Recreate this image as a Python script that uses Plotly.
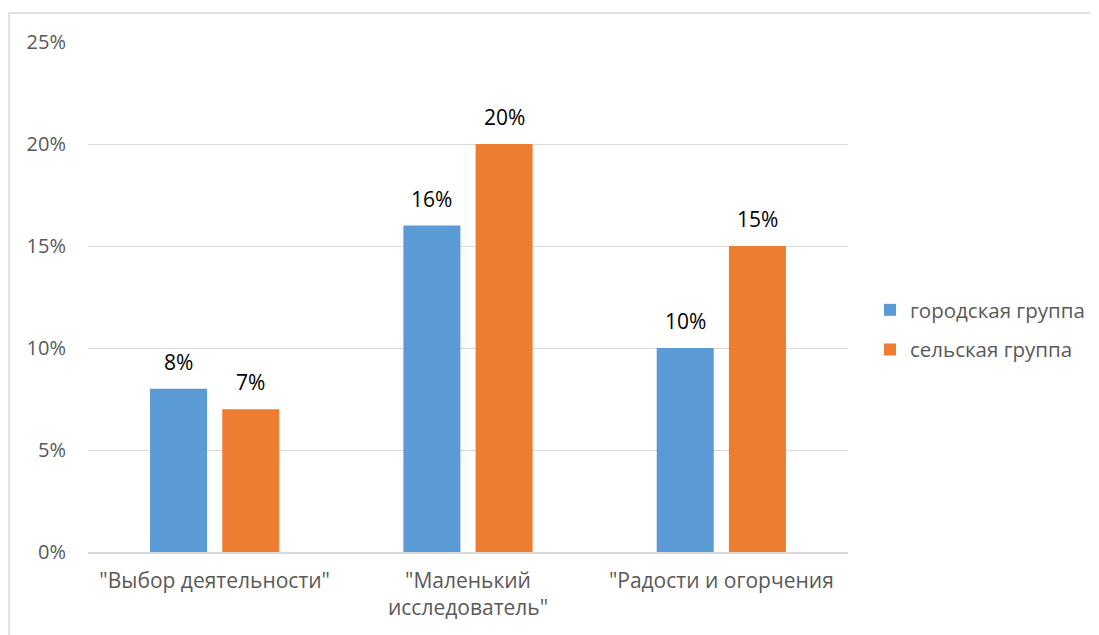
import plotly.graph_objects as go

categories = ['"Выбор деятельности"', '"Маленький<br>исследователь"', '"Радости и огорчения']
series_names = ["городская группа", "сельская группа"]
urban = [8, 16, 10]
rural = [7, 20, 15]
colors = ["#5B9BD5", "#ED7D31"]
tick_vals = [0, 5, 10, 15, 20, 25]
tick_text = ["0%", "5%", "10%", "15%", "20%", "25%"]

FONT = "Open Sans"
OFF = 8  # page body margin
W, H = 1099, 635
L, R, T, B = 88 - OFF, 251 + OFF, 42 - OFF, 83 + OFF
pw, ph = W - L - R, H - T - B

fig = go.Figure()
for i, (name, vals) in enumerate(zip(series_names, [urban, rural])):
    fig.add_trace(go.Bar(
        x=categories, y=vals, name=name, legendgroup=f"g{i}",
        marker=dict(color=colors[i], line=dict(width=0)),
    ))

# data labels above bars
slot = pw / len(categories) * (1 - 0.43) / 2
for i, vals in enumerate([urban, rural]):
    for c, v in zip(categories, vals):
        fig.add_annotation(x=c, y=v, text=f"{v}%", showarrow=False,
                           xshift=(i - 0.5) * slot, yshift=11, yanchor="bottom",
                           font=dict(size=21, color="#000000", family=FONT))

def px_x(x):
    return (x - OFF - L) / pw

def px_y(y):
    return (H - B - (y - OFF)) / ph

fig.update_layout(
    width=W, height=H,
    margin=dict(l=L, r=R, t=T, b=B, autoexpand=False),
    paper_bgcolor="white", plot_bgcolor="white",
    font=dict(family=FONT, color="#595959", size=19),
    barmode="group", bargap=0.43, bargroupgap=0.21,
    showlegend=True,
    legend=dict(x=px_x(870), y=px_y(330), xanchor="left", yanchor="middle",
                font=dict(size=20.5, color="#595959", family=FONT),
                tracegroupgap=10, itemwidth=30, bgcolor="rgba(0,0,0,0)"),
    xaxis=dict(showgrid=False, showline=True, linecolor="#D9D9D9", linewidth=1.5,
               ticks="", ticklabelstandoff=9, tickfont=dict(size=21, color="#595959")),
    yaxis=dict(range=[0, 25], tickvals=tick_vals, ticktext=tick_text,
               showgrid=True, gridcolor="#D9D9D9", gridwidth=1, zeroline=False,
               showline=False, ticks="", ticklabelstandoff=21,
               tickfont=dict(size=20, color="#595959")),
    shapes=[dict(type="rect", xref="paper", yref="paper",
                 x0=px_x(9), x1=px_x(1120), y0=px_y(680), y1=px_y(13),
                 line=dict(color="#D9D9D9", width=1.5), fillcolor="rgba(0,0,0,0)",
                 layer="below")],
)

fig.write_html("out.html")
